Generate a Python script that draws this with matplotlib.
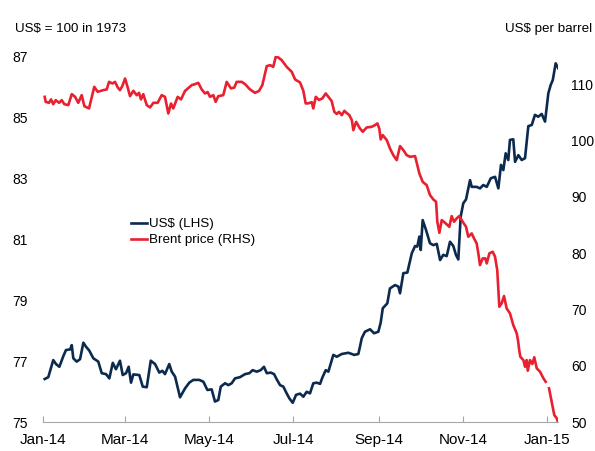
import numpy as np
import pandas as pd
import matplotlib
matplotlib.use("Agg")
import matplotlib.pyplot as plt
import matplotlib.dates as mdates

plt.rcParams['font.family'] = ['Liberation Sans', 'DejaVu Sans']
plt.rcParams['font.size'] = 11

# days after 1 Jan 2014
start = pd.Timestamp('2014-01-01')

usd_days = [1, 3.6, 7.2, 9.2, 11.6, 14.5, 16.4, 19.4, 20.6, 21.7, 24.2, 26.6, 29.0, 30.9,
            33.3, 36.2, 39.8, 42.3, 45.4, 47.8, 50.3, 52.6, 55.5, 57.5, 59.9, 61.8, 63.5,
            65.2, 69.5, 72.0, 74.9, 77.8, 80.9, 84.0, 86.2, 88.1, 91.2, 93.0, 95.4, 99.0,
            102.6, 105.7, 108.6, 113.0, 115.9, 118.8, 121.9, 124.3, 126.7, 128.5, 131.6,
            134.0, 136.4, 138.8, 142.4, 146.1, 149.2, 151.6, 154.5, 157.4, 159.8, 161.8,
            164.7, 167.1, 169.0, 171.4, 173.8, 176.2, 178.1, 180.6, 183.0, 185.9, 188.3,
            190.7, 193.1, 195.5, 198.0, 200.4, 202.0, 204.5, 206.4, 208.8, 210.0, 212.5,
            216.1, 218.5, 220.9, 225.2, 228.1, 229.3, 230.6, 232.9, 236.6, 239.5, 242.6,
            244.3, 245.8, 249.1, 251.0, 254.7, 257.1, 258.3, 260.7, 263.6, 266.8, 269.2,
            270.8, 272.3, 273.3, 274.7, 277.1, 280.0, 282.4, 284.9, 287.3, 289.6, 292.1,
            294.5, 296.9, 298.8, 300.5, 302.2, 304.1, 306.1, 309.0, 310.2, 313.8, 316.2,
            318.6, 321.1, 324.0, 327.1, 329.5, 331.4, 333.1, 334.8, 336.7, 337.9, 340.3,
            341.6, 344.0, 346.4, 348.8, 351.2, 353.7, 356.0, 358.4, 360.9, 363.3, 365.7,
            367.4, 368.9, 371.0, 372.9]
usd_vals = [76.41, 76.47, 77.03, 76.90, 76.81, 77.16, 77.36, 77.38, 77.52, 77.09, 76.98,
            77.06, 77.60, 77.47, 77.34, 77.09, 76.98, 76.60, 76.57, 76.43, 76.94, 76.73,
            77.01, 76.54, 76.60, 76.81, 76.29, 76.56, 76.54, 76.16, 76.14, 77.01, 76.90,
            76.62, 76.68, 76.57, 76.90, 76.65, 76.49, 75.81, 76.10, 76.29, 76.38, 76.38,
            76.32, 76.05, 76.07, 75.67, 75.72, 76.16, 76.27, 76.21, 76.27, 76.43, 76.47,
            76.57, 76.60, 76.70, 76.65, 76.70, 76.81, 76.60, 76.62, 76.57, 76.40, 76.21,
            76.16, 75.94, 75.78, 75.63, 75.89, 75.93, 75.83, 75.99, 75.94, 76.27, 76.29,
            76.25, 76.45, 76.70, 76.65, 77.01, 77.20, 77.14, 77.23, 77.25, 77.27, 77.20,
            77.23, 77.47, 77.75, 77.96, 78.04, 77.91, 77.96, 78.26, 78.73, 78.89, 79.38,
            79.49, 79.44, 79.22, 79.88, 79.90, 80.53, 80.77, 80.75, 81.08, 80.64, 81.62,
            81.30, 80.86, 80.80, 80.84, 80.31, 80.48, 80.44, 80.91, 80.77, 80.48, 80.33,
            81.73, 82.17, 82.30, 82.93, 82.71, 82.71, 82.66, 82.77, 82.71, 82.99, 83.04,
            82.66, 83.43, 83.26, 83.81, 83.59, 84.25, 84.27, 83.53, 83.75, 83.59, 83.65,
            84.70, 84.74, 85.07, 85.01, 85.10, 84.85, 85.78, 86.05, 86.21, 86.76, 86.60]

brent_days = [1, 1.7, 4.1, 5.6, 7.2, 9.0, 11.4, 13.3, 15.2, 18.1, 20.6, 23.0, 25.3, 27.8,
              29.7, 33.1, 36.9, 39.4, 43.4, 45.9, 47.6, 50.0, 51.9, 53.9, 55.5, 57.2, 59.2,
              61.1, 62.8, 65.2, 67.6, 69.3, 70.7, 72.4, 74.9, 77.3, 79.7, 82.8, 85.7, 88.1,
              90.5, 92.5, 94.1, 97.3, 99.7, 102.6, 105.0, 107.5, 109.8, 112.2, 114.7, 117.1,
              119.0, 120.7, 123.1, 124.8, 126.7, 130.3, 132.8, 135.9, 138.3, 140.0, 143.7,
              146.1, 149.7, 153.3, 156.2, 158.6, 161.8, 164.2, 166.5, 168.3, 170.2, 172.6,
              176.2, 179.9, 182.3, 185.9, 188.3, 190.0, 191.9, 194.4, 195.5, 197.3, 199.6,
              202.0, 204.5, 206.9, 208.8, 210.7, 212.5, 214.1, 216.1, 218.0, 219.5, 221.6,
              223.4, 224.5, 226.5, 229.3, 231.3, 234.2, 237.8, 240.2, 241.9, 243.3, 244.3,
              245.8, 248.7, 251.0, 253.4, 255.9, 258.3, 260.7, 263.1, 265.5, 269.2, 272.3,
              274.7, 277.6, 280.0, 282.4, 284.4, 285.3, 286.8, 288.5, 290.9, 294.0, 295.7,
              297.4, 299.3, 301.2, 303.7, 306.1, 307.7, 310.2, 311.9, 313.8, 315.0, 316.2,
              318.2, 320.0, 321.1, 323.0, 325.4, 327.1, 328.7, 330.2, 331.9, 333.6, 335.5,
              337.9, 340.3, 342.8, 343.7, 344.6, 345.4, 347.6, 348.8, 350.0, 350.8, 352.4,
              354.1, 355.5, 357.3, 359.7, 362.1, 363.8, 364.8, 366.2, 368.1, 370.0, 371.8,
              372.9]
brent_vals = [107.75, 106.86, 106.69, 107.29, 106.45, 107.16, 106.69, 107.16, 106.45, 106.28,
              108.23, 107.75, 106.69, 108.05, 106.10, 105.69, 109.53, 108.64, 108.94, 109.06,
              110.41, 110.12, 110.41, 109.42, 108.94, 109.65, 111.01, 109.42, 107.87, 108.82,
              108.05, 108.46, 107.29, 108.23, 106.28, 105.87, 106.69, 106.69, 108.05, 107.75,
              104.80, 106.57, 105.69, 107.75, 107.29, 108.80, 109.30, 109.83, 110.00, 110.24,
              109.06, 108.35, 108.60, 107.75, 108.05, 106.86, 107.87, 108.05, 110.41, 109.24,
              109.40, 110.41, 110.41, 110.00, 109.06, 108.46, 108.80, 109.83, 113.20, 113.38,
              113.08, 114.85, 114.74, 114.27, 113.08, 112.19, 110.84, 110.30, 108.80, 106.57,
              106.60, 106.80, 105.69, 107.75, 107.20, 107.46, 108.35, 107.60, 107.00, 105.09,
              104.70, 105.09, 104.50, 105.27, 104.91, 104.50, 103.61, 101.84, 103.31, 102.13,
              101.54, 102.31, 102.43, 102.73, 103.03, 102.10, 100.19, 100.95, 100.06, 98.59,
              97.40, 96.51, 99.00, 98.29, 97.40, 97.10, 97.22, 94.15, 92.66, 92.07, 90.30,
              89.53, 89.11, 85.56, 83.61, 85.86, 85.38, 84.67, 86.57, 85.56, 86.16, 86.57,
              85.56, 84.67, 82.90, 83.49, 82.60, 81.72, 79.95, 77.87, 79.06, 79.06, 78.17,
              79.95, 80.24, 79.35, 76.98, 70.47, 71.07, 72.37, 70.18, 69.30, 67.22, 65.75,
              64.56, 62.78, 61.60, 61.00, 59.82, 61.00, 59.11, 61.00, 60.30, 61.49, 59.53,
              58.93, 57.76, 57.15, np.nan, 55.98, 53.60, 51.24, 50.65, 49.80]

usd_dates = start + pd.to_timedelta(usd_days, unit='D')
brent_dates = start + pd.to_timedelta(brent_days, unit='D')

navy = '#0b2a4e'
red = '#e8202f'
grey = '#a6a6a6'

fig = plt.figure(figsize=(5.95, 4.51), dpi=100)
ax = fig.add_axes([0.0728, 0.0643, 0.8655, 0.8115])
ax2 = ax.twinx()

l1, = ax.plot(usd_dates, usd_vals, color=navy, lw=1.9, label='US$ (LHS)')
l2, = ax2.plot(brent_dates, brent_vals, color=red, lw=1.9, label='Brent price (RHS)')

ax.set_xlim(start, start + pd.Timedelta(days=372.9))
ax.set_ylim(75, 87)
ax.set_yticks(np.arange(75, 88, 2))
ax2.set_ylim(50, 115)
ax2.set_yticks(np.arange(50, 111, 10))

ax.xaxis.set_major_locator(mdates.MonthLocator(bymonth=[1, 3, 5, 7, 9, 11]))
ax.xaxis.set_major_formatter(mdates.DateFormatter('%b-%y'))

for s in ['top', 'left', 'right']:
    ax.spines[s].set_visible(False)
for s in ax2.spines.values():
    s.set_visible(False)
ax.spines['bottom'].set_color(grey)

ax.tick_params(axis='x', direction='in', length=4, color=grey, pad=8)
ax.tick_params(axis='y', length=0, pad=11, labelsize=10)
ax2.tick_params(axis='y', length=0, pad=9.5, labelsize=10)

fig.text(15 / 595, 1 - 29 / 451, 'US$ = 100 in 1973', ha='left', va='center', fontsize=9.6)
fig.text(592 / 595, 1 - 29 / 451, 'US$ per barrel', ha='right', va='center', fontsize=9.6)

fig.legend(handles=[l1, l2], loc='upper left', bbox_to_anchor=(131 / 595, 1 - 218 / 451),
           frameon=False, borderpad=0, handlelength=1.2, handletextpad=0.15,
           labelspacing=0.28, borderaxespad=0, fontsize=9.6)

fig.savefig('out.png', dpi=100)
